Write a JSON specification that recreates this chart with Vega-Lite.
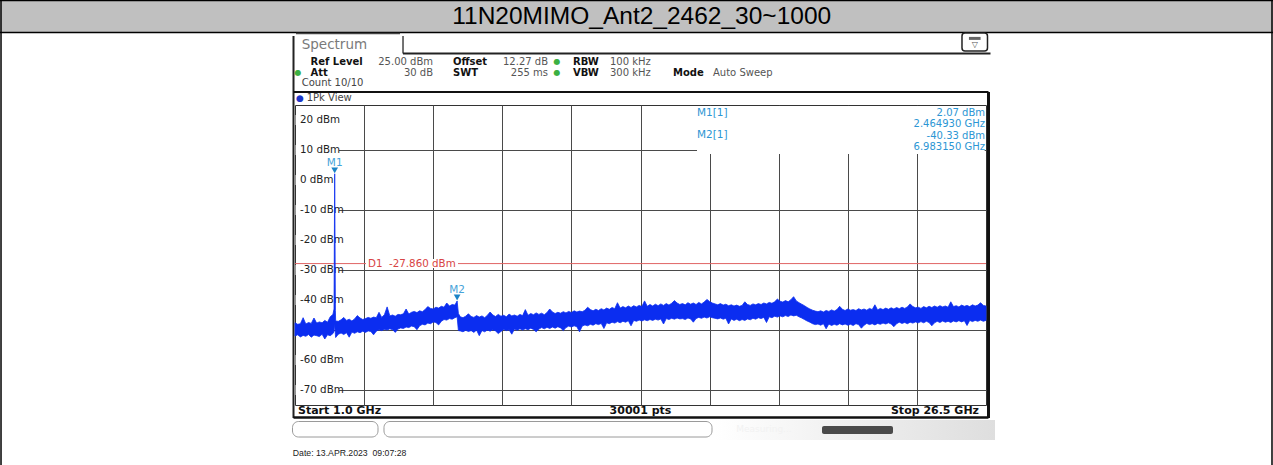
{
"$schema": "https://vega.github.io/schema/vega-lite/v6.json",
"width": 691, "height": 300,
"autosize": {"type": "none"},
"padding": {"left": 295, "top": 105, "right": 287, "bottom": 60},
"background": "white",
"config": {"view": {"stroke": "#333", "strokeWidth": 1}, "text": {"font": "DejaVu Sans"}, "axis": {"labels": false, "ticks": false, "domain": false, "gridColor": "#4a4a4a", "gridWidth": 1, "gridOpacity": 1}},
"data": {"values": [{}]},
"datasets": {
"trace": [
{"f":1.0,"lo":-52.0,"hi":-47.6},{"f":1.1,"lo":-51.6,"hi":-48.1},{"f":1.2,"lo":-52.3,"hi":-47.9},{"f":1.3,"lo":-51.8,"hi":-45.9},{"f":1.4,"lo":-52.1,"hi":-48.0},{"f":1.5,"lo":-51.5,"hi":-47.5},{"f":1.6,"lo":-52.4,"hi":-47.8},{"f":1.7,"lo":-51.7,"hi":-46.0},{"f":1.8,"lo":-51.9,"hi":-47.7},{"f":1.9,"lo":-52.2,"hi":-47.3},{"f":2.0,"lo":-51.4,"hi":-47.6},{"f":2.1,"lo":-53.0,"hi":-46.8},{"f":2.2,"lo":-51.6,"hi":-47.4},{"f":2.3,"lo":-51.9,"hi":-45.6},{"f":2.4,"lo":-51.2,"hi":-44.8},{"f":2.44,"lo":-50.5,"hi":-43.0},{"f":2.46493,"lo":-48.0,"hi":2.07},{"f":2.49,"lo":-51.5,"hi":-43.5},{"f":2.5,"lo":-52.5,"hi":-47.0},
{"f":2.6,"lo":-51.4,"hi":-47.1},{"f":2.7,"lo":-51.0,"hi":-46.6},{"f":2.8,"lo":-51.5,"hi":-45.8},{"f":2.9,"lo":-50.9,"hi":-46.8},{"f":3.0,"lo":-52.4,"hi":-46.4},{"f":3.1,"lo":-50.7,"hi":-47.0},{"f":3.2,"lo":-51.1,"hi":-46.3},{"f":3.3,"lo":-50.6,"hi":-45.2},{"f":3.4,"lo":-50.9,"hi":-46.0},{"f":3.5,"lo":-50.4,"hi":-46.5},{"f":3.6,"lo":-50.8,"hi":-46.2},{"f":3.7,"lo":-50.3,"hi":-45.8},
{"f":3.8,"lo":-50.5,"hi":-46.1},{"f":3.9,"lo":-51.6,"hi":-45.7},{"f":4.0,"lo":-50.4,"hi":-45.9},{"f":4.1,"lo":-49.9,"hi":-44.1},{"f":4.2,"lo":-50.2,"hi":-45.8},{"f":4.3,"lo":-49.8,"hi":-44.9},{"f":4.4,"lo":-50.0,"hi":-42.3},{"f":4.5,"lo":-49.6,"hi":-45.3},{"f":4.6,"lo":-49.9,"hi":-45.0},{"f":4.7,"lo":-50.8,"hi":-45.4},{"f":4.8,"lo":-49.7,"hi":-44.8},
{"f":4.9,"lo":-49.3,"hi":-44.9},{"f":5.0,"lo":-49.5,"hi":-44.6},{"f":5.1,"lo":-49.0,"hi":-43.0},{"f":5.2,"lo":-49.2,"hi":-44.7},{"f":5.3,"lo":-48.7,"hi":-44.1},{"f":5.4,"lo":-48.9,"hi":-43.8},{"f":5.5,"lo":-49.9,"hi":-44.2},{"f":5.6,"lo":-48.6,"hi":-43.6},
{"f":5.7,"lo":-48.1,"hi":-43.9},{"f":5.8,"lo":-48.3,"hi":-43.2},{"f":5.9,"lo":-47.7,"hi":-42.2},{"f":6.0,"lo":-47.9,"hi":-42.8},{"f":6.1,"lo":-47.3,"hi":-43.0},{"f":6.2,"lo":-47.5,"hi":-42.4},{"f":6.3,"lo":-48.3,"hi":-42.7},{"f":6.4,"lo":-47.1,"hi":-42.1},{"f":6.5,"lo":-46.5,"hi":-42.4},{"f":6.6,"lo":-46.7,"hi":-41.0},{"f":6.7,"lo":-46.2,"hi":-42.0},{"f":6.8,"lo":-46.4,"hi":-41.5},{"f":6.9,"lo":-45.9,"hi":-41.7},{"f":6.98315,"lo":-45.6,"hi":-40.33},{"f":7.03,"lo":-50.2,"hi":-44.5},
{"f":7.1,"lo":-50.3,"hi":-45.6},{"f":7.2,"lo":-50.6,"hi":-45.9},{"f":7.3,"lo":-50.1,"hi":-45.4},{"f":7.4,"lo":-50.5,"hi":-44.6},{"f":7.5,"lo":-50.2,"hi":-45.5},{"f":7.6,"lo":-50.8,"hi":-45.8},{"f":7.7,"lo":-50.0,"hi":-45.2},{"f":7.8,"lo":-51.9,"hi":-45.7},{"f":7.9,"lo":-50.2,"hi":-45.3},{"f":8.0,"lo":-50.6,"hi":-45.9},{"f":8.1,"lo":-50.0,"hi":-45.1},{"f":8.2,"lo":-50.4,"hi":-44.0},{"f":8.3,"lo":-49.9,"hi":-45.0},{"f":8.4,"lo":-50.3,"hi":-45.5},{"f":8.5,"lo":-51.2,"hi":-44.8},{"f":8.6,"lo":-50.5,"hi":-45.4},{"f":8.7,"lo":-49.8,"hi":-45.1},{"f":8.8,"lo":-50.2,"hi":-45.6},{"f":8.9,"lo":-49.9,"hi":-44.7},{"f":9.0,"lo":-51.4,"hi":-45.3},{"f":9.1,"lo":-49.7,"hi":-45.0},{"f":9.2,"lo":-50.1,"hi":-45.4},{"f":9.3,"lo":-49.6,"hi":-44.8},
{"f":9.4,"lo":-50.0,"hi":-45.2},{"f":9.5,"lo":-49.6,"hi":-43.2},{"f":9.6,"lo":-49.9,"hi":-45.1},{"f":9.7,"lo":-49.4,"hi":-44.5},{"f":9.8,"lo":-49.8,"hi":-44.9},{"f":9.9,"lo":-50.6,"hi":-44.3},{"f":10.0,"lo":-49.7,"hi":-44.8},{"f":10.1,"lo":-49.2,"hi":-44.4},{"f":10.2,"lo":-49.6,"hi":-44.9},{"f":10.3,"lo":-49.1,"hi":-44.2},{"f":10.4,"lo":-49.5,"hi":-43.0},{"f":10.5,"lo":-49.0,"hi":-44.0},{"f":10.6,"lo":-49.4,"hi":-44.5},{"f":10.7,"lo":-48.9,"hi":-44.1},
{"f":10.8,"lo":-49.3,"hi":-44.4},{"f":10.9,"lo":-50.2,"hi":-43.9},{"f":11.0,"lo":-49.2,"hi":-44.3},{"f":11.1,"lo":-48.7,"hi":-43.8},{"f":11.2,"lo":-49.0,"hi":-44.2},{"f":11.3,"lo":-48.6,"hi":-43.6},{"f":11.4,"lo":-48.9,"hi":-44.0},{"f":11.5,"lo":-50.6,"hi":-43.7},{"f":11.6,"lo":-48.7,"hi":-43.9},{"f":11.7,"lo":-48.3,"hi":-43.4},{"f":11.8,"lo":-48.6,"hi":-42.4},{"f":11.9,"lo":-48.1,"hi":-43.2},{"f":12.0,"lo":-48.4,"hi":-43.6},{"f":12.1,"lo":-47.9,"hi":-43.1},{"f":12.2,"lo":-48.2,"hi":-43.5},
{"f":12.3,"lo":-47.8,"hi":-42.9},{"f":12.4,"lo":-49.5,"hi":-43.3},{"f":12.5,"lo":-47.6,"hi":-42.7},{"f":12.6,"lo":-47.9,"hi":-43.1},{"f":12.7,"lo":-47.4,"hi":-42.5},{"f":12.8,"lo":-47.7,"hi":-42.9},{"f":12.9,"lo":-47.2,"hi":-40.9},{"f":13.0,"lo":-47.6,"hi":-42.7},{"f":13.1,"lo":-47.1,"hi":-42.2},{"f":13.2,"lo":-47.4,"hi":-42.6},{"f":13.3,"lo":-46.9,"hi":-42.0},{"f":13.4,"lo":-48.6,"hi":-42.5},{"f":13.5,"lo":-46.8,"hi":-41.9},{"f":13.6,"lo":-47.1,"hi":-42.3},{"f":13.7,"lo":-46.7,"hi":-41.8},
{"f":13.8,"lo":-47.0,"hi":-42.2},{"f":13.9,"lo":-46.6,"hi":-40.3},{"f":14.0,"lo":-46.9,"hi":-42.1},{"f":14.1,"lo":-46.5,"hi":-41.5},{"f":14.2,"lo":-46.8,"hi":-42.0},{"f":14.3,"lo":-46.4,"hi":-41.4},{"f":14.4,"lo":-46.7,"hi":-41.9},{"f":14.5,"lo":-46.3,"hi":-41.3},{"f":14.6,"lo":-48.0,"hi":-41.8},{"f":14.7,"lo":-46.2,"hi":-41.2},{"f":14.8,"lo":-46.5,"hi":-41.7},{"f":14.9,"lo":-46.1,"hi":-41.1},{"f":15.0,"lo":-46.4,"hi":-40.2},{"f":15.1,"lo":-46.0,"hi":-41.0},{"f":15.2,"lo":-46.3,"hi":-41.5},
{"f":15.3,"lo":-46.2,"hi":-41.2},{"f":15.4,"lo":-46.5,"hi":-41.6},{"f":15.5,"lo":-46.0,"hi":-40.9},{"f":15.6,"lo":-46.3,"hi":-41.4},{"f":15.7,"lo":-47.4,"hi":-41.0},{"f":15.8,"lo":-46.2,"hi":-41.5},{"f":15.9,"lo":-45.8,"hi":-40.8},{"f":16.0,"lo":-46.1,"hi":-41.3},{"f":16.1,"lo":-45.7,"hi":-40.7},{"f":16.2,"lo":-46.0,"hi":-39.8},{"f":16.3,"lo":-45.6,"hi":-40.5},{"f":16.4,"lo":-45.9,"hi":-41.0},{"f":16.5,"lo":-46.1,"hi":-41.3},{"f":16.6,"lo":-46.3,"hi":-41.6},
{"f":16.7,"lo":-46.0,"hi":-41.2},{"f":16.8,"lo":-46.4,"hi":-41.7},{"f":16.9,"lo":-46.1,"hi":-41.4},{"f":17.0,"lo":-48.0,"hi":-41.9},{"f":17.1,"lo":-46.3,"hi":-41.6},{"f":17.2,"lo":-46.8,"hi":-42.0},{"f":17.3,"lo":-46.4,"hi":-41.7},{"f":17.4,"lo":-46.9,"hi":-42.1},{"f":17.5,"lo":-46.5,"hi":-41.8},{"f":17.6,"lo":-46.8,"hi":-40.6},{"f":17.7,"lo":-46.3,"hi":-41.5},{"f":17.8,"lo":-46.6,"hi":-41.8},{"f":17.9,"lo":-46.1,"hi":-41.3},{"f":18.0,"lo":-46.4,"hi":-41.6},{"f":18.1,"lo":-45.9,"hi":-41.2},
{"f":18.2,"lo":-46.2,"hi":-41.5},{"f":18.3,"lo":-45.8,"hi":-41.0},{"f":18.4,"lo":-47.5,"hi":-41.3},{"f":18.5,"lo":-45.6,"hi":-40.8},{"f":18.6,"lo":-45.9,"hi":-41.1},{"f":18.7,"lo":-45.4,"hi":-40.6},{"f":18.8,"lo":-45.7,"hi":-39.7},{"f":18.9,"lo":-45.3,"hi":-40.4},{"f":19.0,"lo":-45.6,"hi":-40.7},{"f":19.1,"lo":-45.2,"hi":-40.2},{"f":19.2,"lo":-45.5,"hi":-40.6},{"f":19.3,"lo":-45.0,"hi":-39.9},{"f":19.4,"lo":-45.3,"hi":-38.9},{"f":19.5,"lo":-45.1,"hi":-40.3},
{"f":19.6,"lo":-45.6,"hi":-40.9},{"f":19.7,"lo":-46.0,"hi":-41.4},{"f":19.8,"lo":-46.5,"hi":-41.9},{"f":19.9,"lo":-47.0,"hi":-42.5},{"f":20.0,"lo":-47.4,"hi":-43.0},{"f":20.1,"lo":-47.9,"hi":-43.4},{"f":20.2,"lo":-48.2,"hi":-43.7},
{"f":20.3,"lo":-48.0,"hi":-43.9},{"f":20.4,"lo":-48.4,"hi":-43.6},{"f":20.5,"lo":-47.9,"hi":-44.0},{"f":20.6,"lo":-49.6,"hi":-43.5},{"f":20.7,"lo":-48.0,"hi":-43.8},{"f":20.8,"lo":-48.5,"hi":-43.3},{"f":20.9,"lo":-48.1,"hi":-43.7},{"f":21.0,"lo":-48.4,"hi":-43.2},{"f":21.1,"lo":-47.9,"hi":-42.1},{"f":21.2,"lo":-48.3,"hi":-43.1},{"f":21.3,"lo":-48.0,"hi":-43.5},{"f":21.4,"lo":-48.4,"hi":-43.0},{"f":21.5,"lo":-48.1,"hi":-43.4},{"f":21.6,"lo":-48.5,"hi":-43.2},{"f":21.7,"lo":-47.9,"hi":-43.5},{"f":21.8,"lo":-48.2,"hi":-42.9},{"f":21.9,"lo":-49.4,"hi":-43.3},{"f":22.0,"lo":-48.4,"hi":-43.0},{"f":22.1,"lo":-47.8,"hi":-43.4},{"f":22.2,"lo":-48.2,"hi":-42.8},{"f":22.3,"lo":-47.9,"hi":-43.2},{"f":22.4,"lo":-48.3,"hi":-41.6},{"f":22.5,"lo":-47.8,"hi":-43.3},
{"f":22.6,"lo":-48.1,"hi":-42.8},{"f":22.7,"lo":-47.7,"hi":-43.2},{"f":22.8,"lo":-48.0,"hi":-42.7},{"f":22.9,"lo":-47.6,"hi":-43.1},{"f":23.0,"lo":-48.0,"hi":-42.6},{"f":23.1,"lo":-48.9,"hi":-43.0},{"f":23.2,"lo":-47.9,"hi":-42.5},{"f":23.3,"lo":-47.4,"hi":-42.9},{"f":23.4,"lo":-47.8,"hi":-42.4},{"f":23.5,"lo":-47.5,"hi":-42.8},{"f":23.6,"lo":-47.9,"hi":-42.3},{"f":23.7,"lo":-47.4,"hi":-41.3},{"f":23.8,"lo":-47.7,"hi":-42.2},{"f":23.9,"lo":-47.3,"hi":-42.6},{"f":24.0,"lo":-47.6,"hi":-42.4},{"f":24.1,"lo":-47.2,"hi":-42.8},{"f":24.2,"lo":-47.6,"hi":-42.2},{"f":24.3,"lo":-47.1,"hi":-42.6},{"f":24.4,"lo":-47.5,"hi":-42.1},{"f":24.5,"lo":-48.6,"hi":-42.5},{"f":24.6,"lo":-47.6,"hi":-42.0},{"f":24.7,"lo":-47.1,"hi":-42.4},{"f":24.8,"lo":-47.5,"hi":-41.9},{"f":24.9,"lo":-47.0,"hi":-42.3},{"f":25.0,"lo":-47.4,"hi":-42.0},{"f":25.1,"lo":-47.1,"hi":-42.4},{"f":25.2,"lo":-47.5,"hi":-40.6},{"f":25.3,"lo":-47.0,"hi":-42.2},{"f":25.4,"lo":-47.3,"hi":-41.9},{"f":25.5,"lo":-46.9,"hi":-42.3},{"f":25.6,"lo":-47.3,"hi":-41.7},{"f":25.7,"lo":-46.9,"hi":-42.1},{"f":25.8,"lo":-48.5,"hi":-41.8},{"f":25.9,"lo":-46.8,"hi":-42.2},{"f":26.0,"lo":-47.2,"hi":-41.6},{"f":26.1,"lo":-46.8,"hi":-42.0},{"f":26.2,"lo":-47.1,"hi":-41.7},{"f":26.3,"lo":-46.7,"hi":-40.9},{"f":26.4,"lo":-47.1,"hi":-41.8},{"f":26.5,"lo":-46.8,"hi":-42.0}
],
"levels": [{"lvl":20,"lab":"20 dBm"},{"lvl":10,"lab":"10 dBm"},{"lvl":0,"lab":"0 dBm"},{"lvl":-10,"lab":"-10 dBm"},{"lvl":-20,"lab":"-20 dBm"},{"lvl":-30,"lab":"-30 dBm"},{"lvl":-40,"lab":"-40 dBm"},{"lvl":-60,"lab":"-60 dBm"},{"lvl":-70,"lab":"-70 dBm"}],
"d1": [{"name":"D1","level":-27.86}],
"markers": [{"m":"M1","f":2.46493,"p":2.07},{"m":"M2","f":6.98315,"p":-40.33}]
},
"layer": [
{"mark": {"type": "rect", "fill": "#c0c0c0"}, "encoding": {"x": {"datum": -9.886}, "x2": {"datum": 37.091}, "y": {"datum": 60}, "y2": {"datum": 49.33}}},
{"mark": {"type": "rule", "color": "#000", "strokeWidth": 1.5}, "encoding": {"x": {"datum": -9.886}, "x2": {"datum": 37.091}, "y": {"datum": 59.83}}},
{"mark": {"type": "rule", "color": "#000", "strokeWidth": 1.5}, "encoding": {"x": {"datum": -9.886}, "x2": {"datum": 37.091}, "y": {"datum": 49.17}}},
{"mark": {"type": "rule", "color": "#000", "strokeWidth": 1.5}, "encoding": {"x": {"datum": -9.849}, "y": {"datum": 60}, "y2": {"datum": -95}}},
{"mark": {"type": "rule", "color": "#000", "strokeWidth": 1.5}, "encoding": {"x": {"datum": 37.054}, "y": {"datum": 60}, "y2": {"datum": -95}}},
{"mark": {"type": "text", "text": "11N20MIMO_Ant2_2462_30~1000", "font": "Liberation Sans", "fontSize": 24.5, "align": "center", "baseline": "middle", "color": "#000"}, "encoding": {"x": {"datum": 13.794}, "y": {"datum": 54.23}}},
{"mark": {"type": "rule", "color": "#222", "strokeWidth": 2}, "encoding": {"x": {"datum": 0.945}, "y": {"datum": 48}, "y2": {"datum": -79.33}}},
{"mark": {"type": "rule", "color": "#444", "strokeWidth": 1.5}, "encoding": {"x": {"datum": 1.037}, "x2": {"datum": 4.875}, "y": {"datum": 48.83}}},
{"mark": {"type": "rule", "color": "#444", "strokeWidth": 1.5}, "encoding": {"x": {"datum": 4.986}, "y": {"datum": 48}, "y2": {"datum": 42.17}}},
{"mark": {"type": "rule", "color": "#222", "strokeWidth": 2}, "encoding": {"x": {"datum": 4.986}, "x2": {"datum": 26.666}, "y": {"datum": 42.17}}},
{"mark": {"type": "rule", "color": "#111", "strokeWidth": 2}, "encoding": {"x": {"datum": 0.945}, "x2": {"datum": 26.592}, "y": {"datum": 29.33}}},
{"mark": {"type": "rule", "color": "#111", "strokeWidth": 3}, "encoding": {"x": {"datum": 26.592}, "y": {"datum": 29.33}, "y2": {"datum": -79.33}}},
{"mark": {"type": "rule", "color": "#111", "strokeWidth": 2.5}, "encoding": {"x": {"datum": 0.945}, "x2": {"datum": 26.592}, "y": {"datum": -79.17}}},
{"mark": {"type": "text", "text": "Spectrum", "fontSize": 13.5, "align": "left", "baseline": "middle", "color": "#7a7a7a"}, "encoding": {"x": {"datum": 1.247}, "y": {"datum": 45}}},
{"mark": {"type": "rect", "fill": "white", "stroke": "#222", "strokeWidth": 1.5, "cornerRadius": 3}, "encoding": {"x": {"datum": 25.614}, "x2": {"datum": 26.555}, "y": {"datum": 49}, "y2": {"datum": 43}}},
{"mark": {"type": "rect", "fill": "#666"}, "encoding": {"x": {"datum": 25.87}, "x2": {"datum": 26.3}, "y": {"datum": 47.7}, "y2": {"datum": 46.7}}},
{"mark": {"type": "text", "text": "▽", "fontSize": 8, "align": "center", "baseline": "middle", "color": "#555"}, "encoding": {"x": {"datum": 26.085}, "y": {"datum": 44.9}}},
{"mark": {"type": "text", "text": ["Ref Level", "Att"], "lineHeight": 11.3, "fontSize": 10, "fontWeight": "bold", "align": "left", "baseline": "middle", "color": "#111"}, "encoding": {"x": {"datum": 1.572}, "y": {"datum": 39.33}}},
{"mark": {"type": "text", "text": ["25.00 dBm", "30 dB"], "lineHeight": 11.3, "fontSize": 10, "align": "right", "baseline": "middle", "color": "#555"}, "encoding": {"x": {"datum": 6.093}, "y": {"datum": 39.33}}},
{"mark": {"type": "text", "text": ["Offset", "SWT"], "lineHeight": 11.3, "fontSize": 10, "fontWeight": "bold", "align": "left", "baseline": "middle", "color": "#111"}, "encoding": {"x": {"datum": 6.831}, "y": {"datum": 39.33}}},
{"mark": {"type": "text", "text": ["12.27 dB", "255 ms"], "lineHeight": 11.3, "fontSize": 10, "align": "right", "baseline": "middle", "color": "#555"}, "encoding": {"x": {"datum": 10.336}, "y": {"datum": 39.33}}},
{"mark": {"type": "text", "text": ["●", "●"], "lineHeight": 11.3, "fontSize": 8, "align": "center", "baseline": "middle", "color": "#3cb043"}, "encoding": {"x": {"datum": 10.669}, "y": {"datum": 39.33}}},
{"mark": {"type": "text", "text": ["RBW", "VBW"], "lineHeight": 11.3, "fontSize": 10, "fontWeight": "bold", "align": "left", "baseline": "middle", "color": "#111"}, "encoding": {"x": {"datum": 11.259}, "y": {"datum": 39.33}}},
{"mark": {"type": "text", "text": ["100 kHz", "300 kHz"], "lineHeight": 11.3, "fontSize": 10, "align": "left", "baseline": "middle", "color": "#555"}, "encoding": {"x": {"datum": 12.624}, "y": {"datum": 39.33}}},
{"mark": {"type": "text", "text": "Mode", "fontSize": 10, "fontWeight": "bold", "align": "left", "baseline": "middle", "color": "#111"}, "encoding": {"x": {"datum": 14.949}, "y": {"datum": 35.57}}},
{"mark": {"type": "text", "text": "Auto Sweep", "fontSize": 10, "align": "left", "baseline": "middle", "color": "#555"}, "encoding": {"x": {"datum": 16.425}, "y": {"datum": 35.57}}},
{"mark": {"type": "text", "text": "●", "fontSize": 8, "align": "center", "baseline": "middle", "color": "#3cb043"}, "encoding": {"x": {"datum": 1.111}, "y": {"datum": 35.57}}},
{"mark": {"type": "text", "text": "Count 10/10", "fontSize": 10, "align": "left", "baseline": "middle", "color": "#444"}, "encoding": {"x": {"datum": 1.247}, "y": {"datum": 32.23}}},
{"mark": {"type": "text", "text": "●", "fontSize": 9, "align": "center", "baseline": "middle", "color": "#1c35c8"}, "encoding": {"x": {"datum": 1.185}, "y": {"datum": 27.43}}},
{"mark": {"type": "text", "text": "1Pk View", "fontSize": 10, "align": "left", "baseline": "middle", "color": "#444"}, "encoding": {"x": {"datum": 1.432}, "y": {"datum": 27.43}}},
{"data": {"name": "levels"}, "mark": {"type": "rule", "color": "white", "strokeWidth": 10}, "encoding": {"x": {"datum": 1.02}, "x2": {"datum": 2.624}, "y": {"field": "lvl", "type": "quantitative", "title": null}}},
{"data": {"name": "levels"}, "mark": {"type": "text", "fontSize": 10.3, "align": "left", "baseline": "middle", "color": "#222"}, "encoding": {"x": {"datum": 1.185}, "y": {"field": "lvl", "type": "quantitative", "title": null}, "text": {"field": "lab"}}},
{"data": {"name": "d1"}, "mark": {"type": "rule", "color": "#e06464", "strokeWidth": 1}, "encoding": {"x": {"datum": 1}, "x2": {"datum": 26.5}, "y": {"field": "level", "type": "quantitative", "title": null}}},
{"data": {"name": "d1"}, "mark": {"type": "rule", "color": "white", "strokeWidth": 9}, "encoding": {"x": {"datum": 3.62}, "x2": {"datum": 7.015}, "y": {"field": "level", "type": "quantitative", "title": null}}},
{"data": {"name": "d1"}, "mark": {"type": "text", "text": "D1\u00a0 -27.860 dBm", "fontSize": 10.3, "align": "left", "baseline": "middle", "color": "#d84444"}, "encoding": {"x": {"datum": 3.694}, "y": {"field": "level", "type": "quantitative", "title": null}}},
{"data": {"name": "trace"}, "mark": {"type": "area", "color": "#0b2df0", "stroke": "#0b2df0", "strokeWidth": 0.8, "opacity": 1},
 "encoding": {
  "x": {"field": "f", "type": "quantitative", "title": null, "scale": {"domain": [1, 26.5], "nice": false, "zero": false}, "axis": {"title": null, "grid": true, "values": [3.55, 6.1, 8.65, 11.2, 13.75, 16.3, 18.85, 21.4, 23.95], "labels": false, "ticks": false, "domain": false}},
  "y": {"field": "lo", "type": "quantitative", "title": null, "scale": {"domain": [-75, 25], "nice": false, "zero": false}, "axis": {"title": null, "grid": true, "values": [20, 10, 0, -10, -20, -30, -40, -50, -60, -70], "labels": false, "ticks": false, "domain": false}},
  "y2": {"field": "hi"}
 }},
{"mark": {"type": "rect", "fill": "white"}, "encoding": {"x": {"datum": 15.835}, "x2": {"datum": 26.45}, "y": {"datum": 24.7}, "y2": {"datum": 8.67}}},
{"mark": {"type": "text", "text": "M1[1]", "fontSize": 10.5, "align": "left", "baseline": "middle", "color": "#2c96d4"}, "encoding": {"x": {"datum": 15.835}, "y": {"datum": 22.43}}},
{"mark": {"type": "text", "text": "M2[1]", "fontSize": 10.5, "align": "left", "baseline": "middle", "color": "#2c96d4"}, "encoding": {"x": {"datum": 15.835}, "y": {"datum": 15.0}}},
{"mark": {"type": "text", "text": ["2.07 dBm", "2.464930 GHz", "-40.33 dBm", "6.983150 GHz"], "lineHeight": 11.4, "fontSize": 10, "align": "right", "baseline": "middle", "color": "#2c96d4"}, "encoding": {"x": {"datum": 26.463}, "y": {"datum": 22.43}}},
{"data": {"name": "markers"}, "mark": {"type": "point", "shape": "triangle-down", "filled": true, "size": 45, "color": "#1b83c6", "opacity": 1, "yOffset": -3.5}, "encoding": {"x": {"field": "f", "type": "quantitative", "title": null}, "y": {"field": "p", "type": "quantitative", "title": null}}},
{"data": {"name": "markers"}, "mark": {"type": "text", "fontSize": 10.5, "align": "center", "baseline": "middle", "dy": -10.5, "color": "#46a3d9"}, "encoding": {"x": {"field": "f", "type": "quantitative", "title": null}, "y": {"field": "p", "type": "quantitative", "title": null}, "text": {"field": "m"}}},
{"mark": {"type": "text", "text": "Start 1.0 GHz", "fontSize": 11, "fontWeight": "bold", "align": "left", "baseline": "middle", "color": "#111"}, "encoding": {"x": {"datum": 1.111}, "y": {"datum": -77}}},
{"mark": {"type": "text", "text": "30001 pts", "fontSize": 11, "fontWeight": "bold", "align": "center", "baseline": "middle", "color": "#111"}, "encoding": {"x": {"datum": 13.75}, "y": {"datum": -77}}},
{"mark": {"type": "text", "text": "Stop 26.5 GHz", "fontSize": 11, "fontWeight": "bold", "align": "right", "baseline": "middle", "color": "#111"}, "encoding": {"x": {"datum": 26.242}, "y": {"datum": -77}}},
{"mark": {"type": "rect", "fill": {"x1": 0, "y1": 0, "x2": 1, "y2": 0, "gradient": "linear", "stops": [{"offset": 0, "color": "#ffffff"}, {"offset": 1, "color": "#dedede"}]}}, "encoding": {"x": {"datum": 16.499}, "x2": {"datum": 26.832}, "y": {"datum": -80}, "y2": {"datum": -86.67}}},
{"mark": {"type": "rect", "fill": "white", "stroke": "#9a9a9a", "strokeWidth": 1, "cornerRadius": 6}, "encoding": {"x": {"datum": 0.908}, "x2": {"datum": 4.063}, "y": {"datum": -80.5}, "y2": {"datum": -85.67}}},
{"mark": {"type": "rect", "fill": "white", "stroke": "#9a9a9a", "strokeWidth": 1, "cornerRadius": 6}, "encoding": {"x": {"datum": 4.284}, "x2": {"datum": 16.389}, "y": {"datum": -80.5}, "y2": {"datum": -85.67}}},
{"mark": {"type": "text", "text": "Measuring...", "fontSize": 9, "align": "center", "baseline": "middle", "color": "#f2f2f2"}, "encoding": {"x": {"datum": 18.307}, "y": {"datum": -83.1}}},
{"mark": {"type": "rect", "fill": "#4a4a4a", "cornerRadius": 2}, "encoding": {"x": {"datum": 20.448}, "x2": {"datum": 23.068}, "y": {"datum": -82}, "y2": {"datum": -84.67}}},
{"mark": {"type": "text", "text": "Date: 13.APR.2023\u00a0 09:07:28", "font": "Liberation Sans", "fontSize": 8.7, "align": "left", "baseline": "middle", "color": "#222"}, "encoding": {"x": {"datum": 0.92}, "y": {"datum": -91.1}}}
]
}
